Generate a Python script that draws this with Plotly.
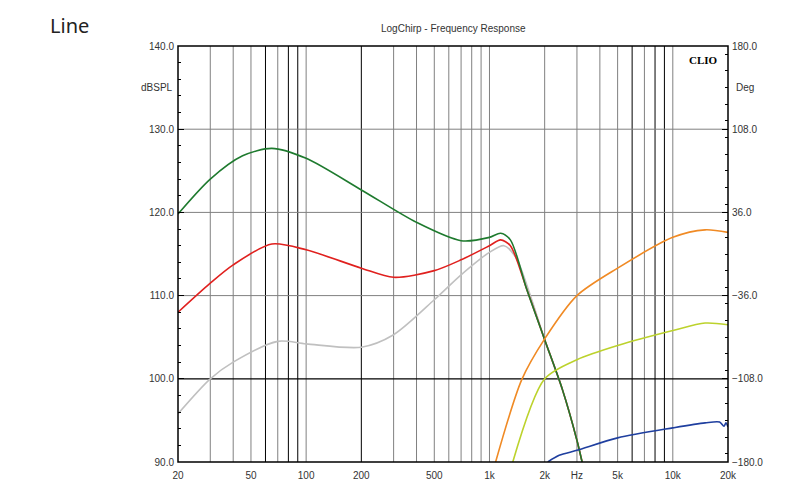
import plotly.graph_objects as go

green_f = [20, 30, 45, 65, 100, 200, 400, 700, 1000, 1150, 1300, 1600, 2000, 2500, 3000, 3200]
green_v = [119.8, 124.0, 126.8, 127.7, 126.5, 122.7, 118.8, 116.6, 117.0, 117.5, 116.7, 110.7, 104.7, 98.7, 92.6, 90.0]
red_f = [20, 30, 40, 65, 100, 200, 300, 500, 700, 1000, 1150, 1300, 1600, 2000, 2500, 3000, 3200]
red_v = [108.0, 111.5, 113.7, 116.2, 115.5, 113.3, 112.2, 113.0, 114.3, 116.0, 116.7, 116.0, 110.7, 104.7, 98.7, 92.6, 90.0]
gray_f = [20, 30, 40, 70, 100, 200, 300, 500, 700, 1000, 1200, 1400, 1700, 2000, 2500, 3000, 3200]
gray_v = [95.8, 100.0, 102.0, 104.5, 104.2, 103.8, 105.3, 109.5, 112.5, 115.2, 116.0, 114.5, 109.5, 104.7, 98.7, 92.6, 90.0]
orange_f = [1080, 1500, 2000, 3000, 5000, 10000, 15000, 20000]
orange_v = [90.0, 99.9, 104.8, 110.0, 113.3, 117.0, 117.9, 117.6]
yellow_f = [1340, 2000, 3000, 5000, 10000, 15000, 20000]
yellow_v = [90.0, 100.0, 102.3, 104.0, 105.8, 106.7, 106.5]
blue_f = [2080, 2400, 3000, 5000, 10000, 15000, 18000, 19000, 19500, 20000]
blue_v = [90.0, 90.8, 91.4, 92.9, 94.1, 94.7, 94.8, 94.3, 94.7, 94.2]

tick_vals = [20, 50, 100, 200, 500, 1000, 2000, 3000, 5000, 10000, 20000]
tick_text = ["20", "50", "100", "200", "500", "1k", "2k", "Hz", "5k", "10k", "20k"]
black_lines = [60, 80, 90, 200, 6000, 8000, 9000]

fig = go.Figure()
series = [(gray_f, gray_v, "#c0c0c0"), (red_f, red_v, "#e0201e"), (green_f, green_v, "#1e7a2e"),
          (orange_f, orange_v, "#f08a24"), (yellow_f, yellow_v, "#bcd22c"), (blue_f, blue_v, "#1f3f9f")]
for f, v, c in series:
    fig.add_trace(go.Scatter(x=f, y=v, mode="lines", line=dict(color=c, width=1.6, shape="spline", smoothing=0.8),
                             showlegend=False, hoverinfo="skip"))
fig.add_trace(go.Scatter(x=[20], y=[0], yaxis="y2", mode="markers", marker=dict(opacity=0), showlegend=False))

shapes = []
for d in [10, 100, 1000, 10000]:
    for m in range(1, 10):
        f = d * m
        if f <= 20 or f >= 20000:
            continue
        col = "black" if f in black_lines else "#808080"
        shapes.append(dict(type="line", xref="x", yref="paper", x0=f, x1=f, y0=0, y1=1,
                           line=dict(color=col, width=1), layer="below"))
for yv in [110, 120, 130]:
    shapes.append(dict(type="line", xref="paper", yref="y", x0=0, x1=1, y0=yv, y1=yv,
                       line=dict(color="#808080", width=1), layer="below"))
shapes.append(dict(type="line", xref="paper", yref="y", x0=0, x1=1, y0=100, y1=100,
                   line=dict(color="black", width=1.2), layer="below"))
shapes.append(dict(type="rect", xref="paper", yref="paper", x0=0, x1=1, y0=0, y1=1,
                   line=dict(color="black", width=1.5)))

fig.update_layout(
    width=787, height=489, margin=dict(l=170, r=67, t=38, b=35),
    paper_bgcolor="white", plot_bgcolor="white", shapes=shapes,
    font=dict(family="Liberation Sans", size=10, color="#333"),
    xaxis=dict(type="log", range=[1.30103, 4.30103], tickvals=tick_vals, ticktext=tick_text,
               showgrid=False, zeroline=False, ticks="", tickfont=dict(size=10), ticklabelstandoff=6),
    yaxis=dict(range=[90, 140], tickvals=[90, 100, 110, 120, 130, 140], tickformat=".1f",
               showgrid=False, zeroline=False, ticks="inside", ticklen=6, tickcolor="black",
               minor=dict(dtick=2, ticks="inside", ticklen=3, tickcolor="black"), tickfont=dict(size=10),
               ticklabelstandoff=3),
    yaxis2=dict(range=[-180, 180], overlaying="y", side="right", tickvals=[-180, -108, -36, 36, 108, 180],
                tickformat=".1f", showgrid=False, zeroline=False, ticks="inside", ticklen=6, tickcolor="black",
                minor=dict(dtick=14.4, ticks="inside", ticklen=3, tickcolor="black"), tickfont=dict(size=10),
                ticklabelstandoff=3),
    annotations=[
        dict(text="Line", xref="paper", yref="paper", x=-0.237, y=1.05, xanchor="left", yanchor="middle",
             showarrow=False, font=dict(size=20, color="#222", family="Noto Sans")),
        dict(text="LogChirp - Frequency Response", xref="paper", yref="paper", x=0.5, y=1.025,
             xanchor="center", yanchor="bottom", showarrow=False, font=dict(size=10)),
        dict(text="<b>CLIO</b>", xref="paper", yref="paper", x=0.985, y=0.985, xanchor="right", yanchor="top",
             showarrow=False, font=dict(size=11, family="Liberation Serif", color="black")),
        dict(text="dBSPL", xref="paper", yref="paper", x=-0.005, y=0.9, xanchor="right", yanchor="middle",
             showarrow=False, font=dict(size=10)),
        dict(text="Deg", xref="paper", yref="paper", x=1.01, y=0.9, xanchor="left", yanchor="middle",
             showarrow=False, font=dict(size=10)),
    ],
)
fig.write_html("out.html")
